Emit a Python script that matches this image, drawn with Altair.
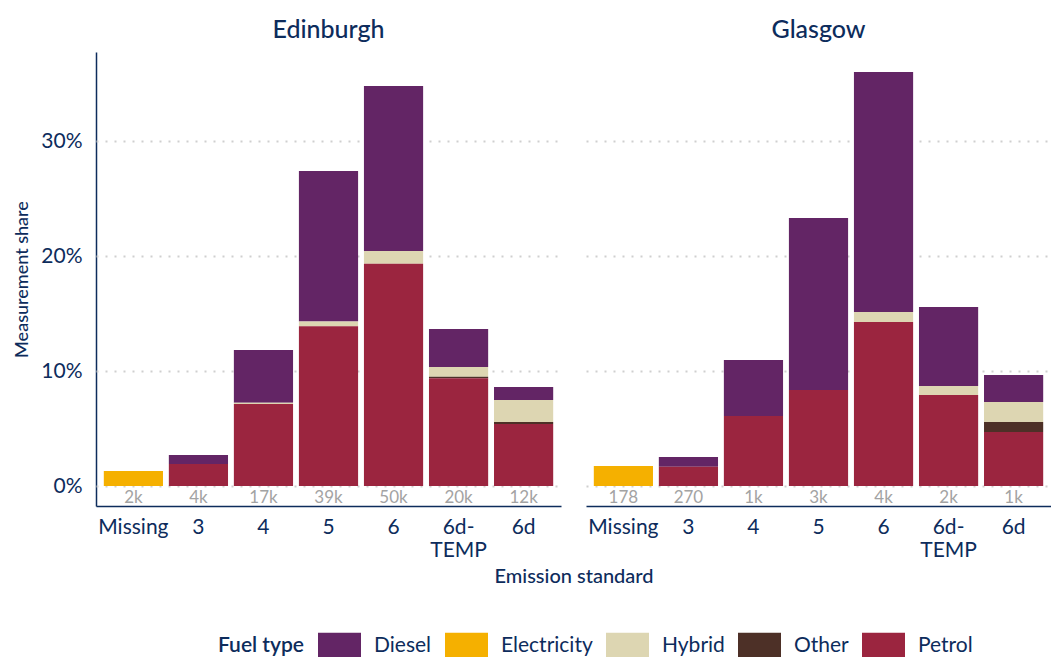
import altair as alt
import pandas as pd

areas = ["Edinburgh", "Glasgow"]
standards = ["Missing", "3", "4", "5", "6", "6d-TEMP", "6d"]
fuels = ["Diesel", "Electricity", "Hybrid", "Other", "Petrol"]
fuel_colors = ["#632565", "#F5B000", "#DDD6B2", "#4D3027", "#9B253F"]
stack_order = {"Petrol": 0, "Other": 1, "Hybrid": 2, "Electricity": 3, "Diesel": 4}

# shares in percent, one value per emission standard
ed_diesel = [0, 0.79, 4.60, 13.09, 14.35, 3.30, 1.13]
ed_electricity = [1.30, 0, 0, 0, 0, 0, 0]
ed_hybrid = [0, 0, 0.10, 0.40, 1.10, 0.85, 1.91]
ed_other = [0, 0, 0, 0, 0, 0.12, 0.18]
ed_petrol = [0, 1.91, 7.13, 13.90, 19.33, 9.38, 5.39]
ed_counts = ["2k", "4k", "17k", "39k", "50k", "20k", "12k"]

gl_diesel = [0, 0.84, 4.87, 14.95, 20.87, 6.87, 2.35]
gl_electricity = [1.74, 0, 0, 0, 0, 0, 0]
gl_hybrid = [0, 0, 0, 0, 0.87, 0.79, 1.73]
gl_other = [0, 0, 0, 0, 0, 0, 0.87]
gl_petrol = [0, 1.68, 6.09, 8.35, 14.26, 7.91, 4.70]
gl_counts = ["178", "270", "1k", "3k", "4k", "2k", "1k"]

series = {
    "Edinburgh": ({"Diesel": ed_diesel, "Electricity": ed_electricity, "Hybrid": ed_hybrid,
                   "Other": ed_other, "Petrol": ed_petrol}, ed_counts),
    "Glasgow": ({"Diesel": gl_diesel, "Electricity": gl_electricity, "Hybrid": gl_hybrid,
                 "Other": gl_other, "Petrol": gl_petrol}, gl_counts),
}

rows = []
for area in areas:
    vals, counts = series[area]
    for fuel in fuels:
        for i, std in enumerate(standards):
            rows.append({"area": area, "standard": std, "fuel": fuel,
                         "share": vals[fuel][i] / 100.0, "order": stack_order[fuel],
                         "count": counts[i]})
df = pd.DataFrame(rows)

navy = "#0d2c5c"
font = "Lato"

x_enc = alt.X(
    "standard:N", sort=standards,
    scale=alt.Scale(paddingInner=0.09, paddingOuter=0.12),
    axis=alt.Axis(title=None, ticks=False, labelAngle=0, labelFontSize=21, labelColor=navy,
                  labelPadding=10, labelLineHeight=23, domainColor=navy, domainWidth=1.5,
                  labelExpr="datum.value == '6d-TEMP' ? ['6d-', 'TEMP'] : datum.value"),
)

y_scale = alt.Scale(domain=[-0.01739, 0.3774], nice=False, zero=False)

bars = alt.Chart().mark_bar().encode(
    x=x_enc,
    y=alt.Y("share:Q", stack="zero", scale=y_scale,
            axis=alt.Axis(title="Measurement share", values=[0, 0.1, 0.2, 0.3], format=".0%",
                          ticks=False, labelFontSize=21, labelColor=navy, labelPadding=14,
                          titleFontSize=18, titleColor=navy, titleFontWeight=500, titlePadding=9,
                          domainColor=navy, domainWidth=1.5, grid=True, gridDash=[2, 7],
                          gridColor="#cfcfcf", gridWidth=2)),
    color=alt.Color("fuel:N", scale=alt.Scale(domain=fuels, range=fuel_colors),
                    legend=alt.Legend(title="Fuel type", orient="none", legendX=122, legendY=572,
                                      direction="horizontal",
                                      titleOrient="left", titleAnchor="middle",
                                      titleBaseline="line-top", titleLineHeight=9,
                                      symbolType="M-1,-0.605H1V0.605H-1Z", symbolSize=1849,
                                      symbolStrokeWidth=0, labelFontSize=21, labelColor=navy,
                                      titleFontSize=21, titleColor=navy, titleFontWeight=600,
                                      columnPadding=13, labelOffset=13, titlePadding=13)),
    order=alt.Order("order:Q", sort="ascending"),
)

labels = alt.Chart().mark_text(fontSize=17, color="#a3a3a3", baseline="middle", font=font).encode(
    x=alt.X("standard:N", sort=standards),
    y=alt.datum(-0.0104),
    text="count:N",
).transform_filter("datum.fuel == 'Petrol'")

chart = alt.layer(bars, labels).properties(width=465, height=454).facet(
    column=alt.Column("area:N", sort=areas,
                      header=alt.Header(title="Emission standard", titleOrient="bottom",
                                        labelOrient="top", labelFontSize=25, labelColor=navy,
                                        labelFontWeight=500, labelPadding=9,
                                        titleFontSize=20, titleColor=navy, titleFontWeight=500,
                                        titlePadding=-3)),
    data=df,
    spacing=25,
).properties(
    padding={"left": 5, "top": 10, "right": 0, "bottom": 0}
).configure(font=font).configure_view(stroke=None)

chart.save("out.html", embed_options={"renderer": "svg", "actions": False})
